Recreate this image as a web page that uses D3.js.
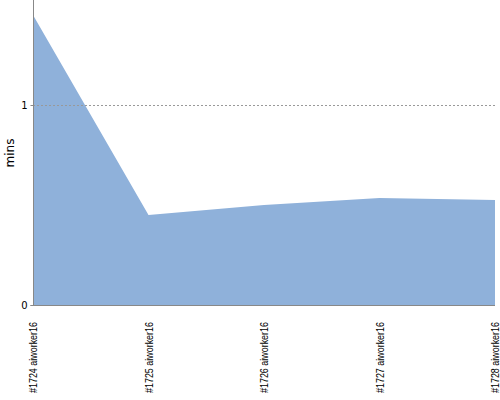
<!DOCTYPE html>
<html><head><meta charset="utf-8">
<script src="https://cdn.jsdelivr.net/npm/d3@7"></script>
<style>body{margin:0;background:#fff}</style>
</head><body>
<svg id="c" width="500" height="400"></svg>
<script>
const categories = ["#1724 aiworker16","#1725 aiworker16","#1726 aiworker16","#1727 aiworker16","#1728 aiworker16"];
const values = [1.45, 0.45, 0.50, 0.535, 0.525];
const yTicks = [0, 1];

(function(){
const svg = d3.select("#c");
const mL = 33, mR = 495, mT = 0, mB = 305;
const x = d3.scalePoint().domain(categories).range([mL, mR]);
const y = d3.scaleLinear().domain([0, 1.525]).range([mB, mT]);

svg.append("path").datum(values)
  .attr("fill", "#8fb1da")
  .attr("d", d3.area().x((d,i)=>x(categories[i])).y0(y(0)).y1(d=>y(d)));

// grid
svg.selectAll(".grid").data(yTicks.filter(t=>t>0)).enter().append("line")
  .attr("x1", mL).attr("x2", mR).attr("y1", d=>y(d)+0.5).attr("y2", d=>y(d)+0.5)
  .attr("stroke", "#999").attr("stroke-dasharray", "2,2").attr("stroke-width", 1);

// y axis
const ya = svg.append("g").attr("transform", `translate(${mL+0.5},0)`)
  .call(d3.axisLeft(y).tickValues(yTicks).tickSize(3).tickFormat(d3.format("d")));
ya.select(".domain").attr("stroke", "#888").attr("d", `M-3,${mB+0.5}H0V${mT}`);
ya.selectAll(".tick line").attr("stroke", "#888");
ya.selectAll("text").attr("font-family", "DejaVu Sans").attr("font-size", 10).attr("fill", "#000").attr("x", -6);

// x axis line
svg.append("line").attr("x1", mL).attr("x2", mR).attr("y1", mB+0.5).attr("y2", mB+0.5).attr("stroke", "#888");

// x labels
svg.selectAll(".xl").data(categories).enter().append("text")
  .attr("transform", d=>`translate(${x(d)+4},${322}) rotate(-90)`)
  .attr("text-anchor", "end")
  .attr("font-family", "Liberation Sans")
  .attr("font-size", 10)
  .attr("textLength", 71).attr("lengthAdjust", "spacingAndGlyphs")
  .attr("fill", "#000")
  .text(d=>d);

svg.append("text").attr("transform", "translate(14,153) rotate(-90)")
  .attr("text-anchor", "middle").attr("font-family", "DejaVu Sans").attr("font-size", 12)
  .attr("fill", "#000").text("mins");
})();
</script>
</body></html>
